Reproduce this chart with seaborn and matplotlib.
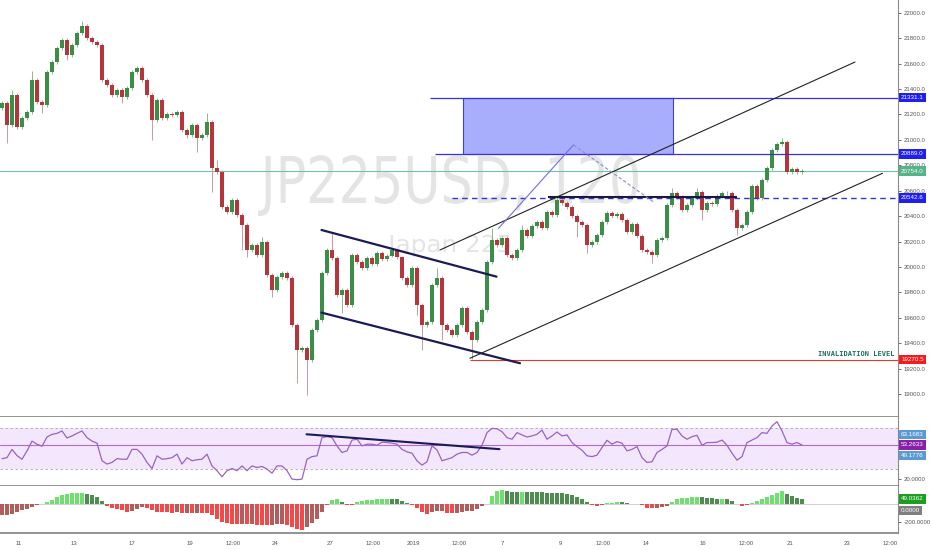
import matplotlib
matplotlib.use("Agg")
import matplotlib.pyplot as plt
import numpy as np
import pandas as pd
import seaborn as sns
from matplotlib import transforms
from matplotlib.font_manager import FontProperties
from matplotlib.patches import PathPatch, Rectangle
from matplotlib.textpath import TextPath

# JP225USD, 120 (one entry per bar)
first_open = 21250
close = [
    21290, 21115, 21355, 21100, 21170, 21220, 21470, 21300, 21275, 21535,
    21610, 21720, 21785, 21665, 21745, 21840, 21895, 21800, 21770, 21745,
    21470, 21430, 21355, 21390, 21335, 21410, 21535, 21565, 21470, 21355,
    21155, 21315, 21170, 21205, 21195, 21220, 21080, 21040, 21115, 21015,
    21040, 21140, 20780, 20745, 20470, 20435, 20525, 20410, 20330, 20135,
    20175, 20095, 20195, 19935, 19820, 19920, 19955, 19915, 19545, 19345,
    19365, 19270, 19505, 19585, 19955, 20135, 20070, 19780, 19820, 19700,
    20095, 20040, 19990, 20070, 20020, 20110, 20060, 20090, 20130, 20075,
    19915, 19860, 19990, 19700, 19545, 19565, 19860, 19915, 19545, 19505,
    19465, 19545, 19680, 19490, 19425, 19565, 19660, 20040, 20210, 20175,
    20230, 20095, 20070, 20135, 20290, 20245, 20325, 20355, 20305, 20435,
    20410, 20525, 20505, 20470, 20400, 20355, 20330, 20175, 20195, 20250,
    20355, 20425, 20400, 20415, 20370, 20275, 20340, 20245, 20135, 20120,
    20095, 20210, 20230, 20490, 20580, 20550, 20450, 20490, 20545, 20590,
    20450, 20505, 20495, 20560, 20580, 20580, 20450, 20305, 20330, 20435,
    20635, 20545, 20685, 20780, 20920, 20965, 20985, 20745, 20770, 20745,
    20755,
]
# wick length beyond the body (points); bars not listed have a short wick
wick_up = {2: 40, 6: 70, 16: 40, 41: 70, 43: 60, 52: 40, 66: 135, 87: 80,
           98: 95, 104: 40, 111: 30, 134: 40, 139: 30, 156: 30}
wick_dn = {1: 140, 8: 60, 13: 40, 24: 45, 30: 155, 37: 25, 39: 110, 42: 190,
           48: 195, 49: 55, 54: 55, 59: 260, 61: 275, 68: 140, 83: 80, 84: 195,
           88: 120, 94: 150, 115: 120, 117: 65, 130: 65, 140: 80, 147: 55}
short_wick = 15

rsi = [
    40, 41, 49, 43, 39.5, 47.5, 57, 54, 52, 61,
    63.5, 64.5, 66.8, 60, 62, 64.5, 66.8, 60.4, 57, 55,
    38, 34.8, 36.4, 40, 39.5, 39.5, 49, 49, 44.4, 36.4,
    30.5, 42.8, 39.5, 40, 41, 44.4, 34.8, 41, 38, 39,
    39.5, 44.4, 33, 28.4, 22.5, 28.4, 30.5, 28.4, 33, 28.4,
    33, 31.5, 32.5, 30, 26, 33, 33, 28.4, 20.3, 19.7,
    20.3, 39.5, 42, 42.8, 60.4, 61.3, 60.4, 52.4, 46, 47.6,
    58, 58.8, 52.4, 54, 54, 53, 56, 55.6, 55, 54,
    49, 46.6, 45.3, 38, 33.8, 37, 52.4, 48.5, 38, 39.5,
    41, 44.4, 46, 46, 43.4, 46, 53, 65.2, 69.3, 69,
    66.1, 60.4, 58.8, 65.2, 63, 61, 62, 63.6, 67.7, 58.8,
    62, 65.8, 62, 63, 55.6, 51.7, 48.2, 42.8, 42, 43.4,
    50.8, 57.8, 54, 56.5, 55, 47.6, 49, 51.7, 41, 36.4,
    37, 46, 49, 52.4, 68.4, 68.4, 62, 58.8, 61.3, 62.6,
    53, 55.6, 55.6, 56, 58, 53, 45.3, 38.6, 42, 55.6,
    58, 60.4, 65.2, 64.5, 71.6, 75.8, 66.8, 55.6, 54, 55.6,
    53.3,
]

macd_hist = [
    -130, -125, -115, -95, -75, -55, -35, -15, -5, 12,
    40, 70, 95, 108, 112, 113, 113, 105, 92, 75,
    30, -25, -50, -62, -72, -87, -82, -55, -35, -45,
    -72, -87, -93, -96, -99, -97, -100, -98, -101, -100,
    -102, -105, -125, -170, -205, -214, -222, -225, -224, -226,
    -225, -228, -232, -236, -232, -225, -222, -230, -250, -272,
    -287, -252, -215, -170, -90, -15, 40, 45, 12, -12,
    -15, 20, 30, 36, 42, 47, 50, 54, 52, 45,
    30, 4, -14, -50, -90, -116, -90, -85, -85, -98,
    -103, -100, -90, -82, -80, -60, -30, -5, 80, 135,
    147, 138, 130, 127, 128, 126, 125, 122, 120, 117,
    113, 112, 110, 100, 88, 70, 45, 17, -12, -22,
    -15, 4, 10, 15, 14, 4, -3, -8, -20, -45,
    -52, -50, -40, -22, 20, 45, 58, 62, 68, 73,
    68, 62, 55, 47, 48, 46, 25, -10, -28, -20,
    10, 30, 48, 68, 90, 113, 135, 102, 80, 62,
    49,
]

date_ticks = [3.4, 14.4, 26, 37.6, 46.2, 54.6, 65.6, 74.2, 82.2, 91.4,
              100, 111.6, 120.2, 128.8, 140.2, 148.8, 157.6, 169, 177.6]
date_labels = ["11", "13", "17", "19", "12:00", "24", "27", "12:00", "2019", "12:00",
               "7", "9", "12:00", "14", "16", "12:00", "21", "23", "12:00"]

zone_top, zone_bottom = 21331.1, 20889.0
last_price = 20754.0
pivot = 20542.6
invalidation = 19270.5
rsi_ma, rsi_up, rsi_dn = 53.2633, 63.1683, 49.1776
macd_last = 49.0362

# ---------------------------------------------------------------------------
sns.set_style("white")
plt.rcParams["font.family"] = ["Liberation Sans", "DejaVu Sans"]

bars = pd.DataFrame({"close": close, "rsi": rsi, "hist": macd_hist})
bars["i"] = np.arange(len(bars))
bars["open"] = np.r_[first_open, bars["close"].values[:-1]]
top = bars[["open", "close"]].max(axis=1)
bot = bars[["open", "close"]].min(axis=1)
bars["high"] = top + [wick_up.get(i, short_wick) for i in bars["i"]]
bars["low"] = bot - [wick_dn.get(i, short_wick) for i in bars["i"]]
bars["up"] = bars["close"] >= bars["open"]

W, H = 932, 550
fig = plt.figure(figsize=(W / 100, H / 100), dpi=100)
fig.patch.set_facecolor("white")


def rect(x0, y0, x1, y1):
    return [x0 / W, 1 - y1 / H, (x1 - x0) / W, (y1 - y0) / H]


ax = fig.add_axes(rect(0, 0, 898, 417))
ax_rsi = fig.add_axes(rect(0, 417, 898, 486))
ax_macd = fig.add_axes(rect(0, 486, 898, 533))

XL = (-0.4, 179.2)
grey = "#8a8a8a"
tick_kw = dict(labelsize=4.3, colors="#555555", length=2.5, width=0.6, pad=1.5)

for a in (ax, ax_rsi, ax_macd):
    a.set_xlim(*XL)
    a.set_facecolor("white")
    for s in ("top", "left"):
        a.spines[s].set_visible(False)
    a.spines["right"].set_color(grey)
    a.spines["right"].set_linewidth(0.8)
    a.spines["bottom"].set_color(grey)
    a.spines["bottom"].set_linewidth(1.3)
    a.yaxis.tick_right()
    a.tick_params(axis="y", **tick_kw)
    a.set_xlabel("")
    a.set_ylabel("")
for a in (ax, ax_rsi):
    a.set_xticks([])


def watermark(text, x0, base, width, cap, color):
    fp = FontProperties(family="DejaVu Sans")
    tp = TextPath((0, 0), text, size=100, prop=fp)
    bb = tp.get_extents()
    cap_h = TextPath((0, 0), "H", size=100, prop=fp).get_extents().height
    tr = transforms.Affine2D().translate(-bb.x0, 0).scale(width / bb.width, cap / cap_h)
    tr = tr.translate(x0, H - base)
    ax.add_patch(PathPatch(tp, transform=tr, fc=color, ec="none", zorder=0.5))


watermark("JP225USD, 120", 258, 203, 380, 47, "#e4e4e4")
watermark("Japan 225", 387, 252, 123, 17, "#e4e4e4")

# ---- price panel ----------------------------------------------------------
ax.set_ylim(18820, 22100)
ax.set_yticks(np.arange(19000, 22001, 200))
ax.yaxis.set_major_formatter(plt.FuncFormatter(lambda v, p: f"{v:.1f}"))

ax.axhline(last_price, color="#6fc4ad", lw=0.8, zorder=1)

body_col = np.where(bars["up"], "#3b8e46", "#b5353b")
wick_col = np.where(bars["up"], "#8fb594", "#c79a9b")
ax.vlines(bars["i"], bars["low"], bars["high"], colors=wick_col, lw=0.7, zorder=2)
ax.bar(bars["i"], np.maximum(top - bot, 4), bottom=bot, width=0.7,
       color=body_col, linewidth=0, zorder=3)

blue = "#3434d8"
ax.add_patch(Rectangle((92.2, zone_bottom), 42, zone_top - zone_bottom,
                       fc="#a9aefc", ec="#4040e0", lw=0.8, zorder=1.5))
ax.hlines(zone_top, 85.6, XL[1], color=blue, lw=0.9, zorder=4)
ax.hlines(zone_bottom, 86.6, XL[1], color=blue, lw=0.9, zorder=4)
ax.hlines(pivot, 90, XL[1], color=blue, lw=1.0, linestyles=(0, (4, 3)), zorder=4)
ax.hlines(invalidation, 93.6, XL[1], color="#e23a2e", lw=0.8, zorder=4)
ax.hlines(20550, 109.2, 147, color="#1a1a40", lw=1.5, zorder=4)

navy = "#1b1b55"
ax.plot([63.9, 98.9], [20291, 19924], color=navy, lw=1.6, zorder=4)
ax.plot([63.9, 103.6], [19641, 19243], color=navy, lw=1.6, zorder=4)
ax.plot([87.6, 170.6], [20134, 21612], color="#222222", lw=0.8, zorder=4)
ax.plot([93.6, 176.1], [19282, 20737], color="#222222", lw=0.8, zorder=4)
ax.plot([99.3, 114.3], [20304, 20960], color="#6f6fe8", lw=0.8, zorder=4)
ax.plot([114.3, 130.2], [20960, 20514], color="#8c8cd0", lw=0.8,
        ls=(0, (3, 2)), zorder=4)

ax.text(178.4, 19318, "INVALIDATION LEVEL", ha="right", va="center", fontsize=5,
        fontweight="bold", family="DejaVu Sans Mono", color="#1d6e62", zorder=5)


def tag(a, y, text, color, shown_at=None):
    tr = transforms.blended_transform_factory(a.transAxes, a.transData)
    a.text(1 + 3 / 898, y if shown_at is None else shown_at, text, transform=tr,
           ha="left", va="center", fontsize=4.5, color="white", clip_on=False,
           zorder=10, bbox=dict(boxstyle="square,pad=0.35", fc=color, ec="none"))


tag(ax, zone_top, f"{zone_top:.1f}", "#1f1fef")
tag(ax, zone_bottom, f"{zone_bottom:.1f}", "#1f1fef")
tag(ax, last_price, f"{last_price:.1f}", "#55b387")
tag(ax, pivot, f"{pivot:.1f}", "#1f1fef")
tag(ax, invalidation, f"{invalidation:.1f}", "#f41c1c")

# ---- RSI panel ------------------------------------------------------------
ax_rsi.set_ylim(13.6, 80.3)
ax_rsi.set_yticks([20])
ax_rsi.yaxis.set_major_formatter(plt.FuncFormatter(lambda v, p: f"{v:.4f}"))
ax_rsi.axhspan(30, 70, color="#f3e7fd", lw=0, zorder=0)
for lvl in (30, 70):
    ax_rsi.axhline(lvl, color="#a8a8a8", lw=0.6, ls=(0, (3, 3)), zorder=1)
ax_rsi.axhline(rsi_ma, color="#b868c6", lw=0.8, zorder=1)
sns.lineplot(data=bars, x="i", y="rsi", ax=ax_rsi, color="#9a62c2", lw=0.9, zorder=3)
ax_rsi.plot([60.9, 99.5], [63.6, 49.2], color=navy, lw=1.5, zorder=4)
ax_rsi.set_xlim(*XL)
ax_rsi.set_xticks([])
ax_rsi.set_xlabel("")
ax_rsi.set_ylabel("")
tag(ax_rsi, rsi_up, f"{rsi_up:.4f}", "#5b9bd4")
tag(ax_rsi, rsi_ma, f"{rsi_ma:.4f}", "#8b1fa9")
tag(ax_rsi, rsi_dn, f"{rsi_dn:.4f}", "#5b9bd4", shown_at=42.8)

# ---- MACD histogram -------------------------------------------------------
ax_macd.set_ylim(-320, 190)
ax_macd.set_yticks([-200])
ax_macd.yaxis.set_major_formatter(plt.FuncFormatter(lambda v, p: f"{v:.4f}"))
h = bars["hist"].values
rising = np.r_[True, h[1:] >= h[:-1]]
hist_col = np.where(h >= 0, np.where(rising, "#6fe06f", "#4f8c4f"),
                    np.where(rising, "#b35c5c", "#f24a4a"))
ax_macd.bar(bars["i"], h, width=0.8, color=hist_col, linewidth=0, zorder=2)
ax_macd.axhline(0, color="#bdbdbd", lw=0.5, zorder=1)
tag(ax_macd, macd_last, f"{macd_last:.4f}", "#1e9e1e")
tag(ax_macd, 0, "0.0000", "#808080", shown_at=-74)

ax_macd.set_xticks(date_ticks)
ax_macd.set_xticklabels(date_labels)
ax_macd.tick_params(axis="x", labelsize=4.3, colors="#555555", length=2, width=0.6, pad=3.5)

fig.savefig("out.png", dpi=100, facecolor="white")
